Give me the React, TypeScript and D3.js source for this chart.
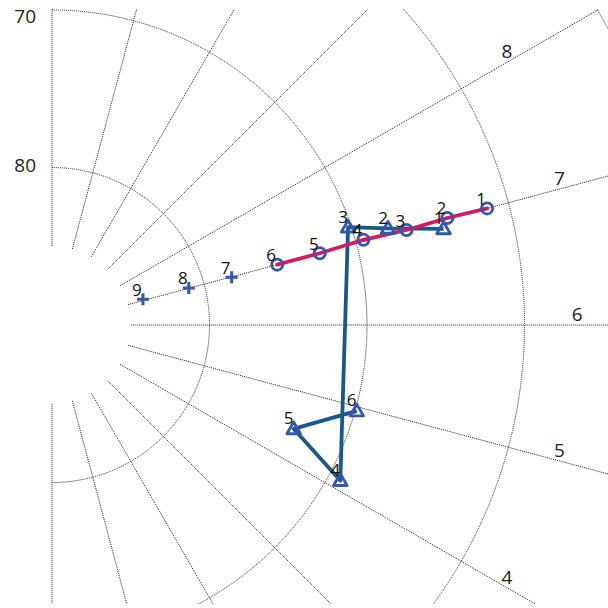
import React from "react";
import * as d3 from "d3";

// ---- data ----
const hourTicks = [0, 1, 2, 3, 4, 5, 6, 7, 8, 9, 10, 11, 12];
const ringLevels = [80, 70, 60, 50];
const ringLabelLevels = [80, 70];

const circleHour = [7.0, 7.01, 7.0, 7.02, 7.0, 7.0];
const circleElev = [61.4, 64.0, 66.7, 69.5, 72.4, 75.2];
const circleLabels = ["1", "2", "3", "4", "5", "6"];

const plusHour = [6.99, 7.01, 7.05];
const plusElev = [78.2, 81.0, 84.0];
const plusLabels = ["7", "8", "9"];

const triHour = [6.92, 7.07, 7.22, 4.11, 4.45, 4.95];
const triElev = [64.4, 67.8, 70.2, 69.2, 73.3, 69.9];
const triLabels = ["1", "2", "3", "4", "5", "6"];

// ---- layout ----
const W = 608, H = 608;
const CX = 52, CY = 325;
const CLIP = { x: 40, y: 9, w: W - 40, h: 595 };
const FONT = "'Open Sans', 'DejaVu Sans', sans-serif";
const GRID = "#1e1e1e";
const MARK = "#3556b0";
const PINK = "#d51b5d";
const BLUE = "#19588f";

const rScale = d3.scaleLinear().domain([90, 50]).range([0, 630]);
// hour -> angle measured clockwise from "up" (d3.pointRadial convention)
const aScale = d3.scaleLinear().domain([0, 12]).range([Math.PI, 0]);

const pt = (h: number, e: number): [number, number] => {
  const [x, y] = d3.pointRadial(aScale(h), rScale(e));
  return [CX + x, CY + y];
};

const lineGen = d3.line<[number, number]>().x((d) => d[0]).y((d) => d[1]);

const inside = (x: number, y: number) =>
  x > CLIP.x + 8 && x < CLIP.x + CLIP.w - 8 && y > CLIP.y + 8 && y < CLIP.y + CLIP.h - 8;

export default function App() {
  const circlePts = circleHour.map((h, i) => pt(h, circleElev[i]));
  const plusPts = plusHour.map((h, i) => pt(h, plusElev[i]));
  const triPts = triHour.map((h, i) => pt(h, triElev[i]));

  const triPath = d3.symbol(d3.symbolTriangle, 80)() as string;

  const ringPath = (lv: number) => {
    const p = d3.path();
    p.arc(CX, CY, rScale(lv), -Math.PI / 2, Math.PI / 2);
    return p.toString();
  };

  const hourLabels = hourTicks
    .map((h) => {
      const [x, y] = pt(h, 56.65);
      return { h, x, y: y - 11 };
    })
    .filter((d) => inside(d.x, d.y));

  return (
    <svg
      width={W}
      height={H}
      style={{ position: "absolute", left: 0, top: 0, background: "#fff" }}
      fontFamily={FONT}
    >
      <defs>
        <clipPath id="plotclip">
          <rect x={CLIP.x} y={CLIP.y} width={CLIP.w} height={CLIP.h} />
        </clipPath>
      </defs>
      <g clipPath="url(#plotclip)">
        {ringLevels.map((lv) => (
          <path
            key={"r" + lv}
            d={ringPath(lv)}
            fill="none"
            stroke={GRID}
            strokeWidth={1}
            strokeDasharray="1,1"
          />
        ))}
        {hourTicks.map((h) => {
          const [x1, y1] = pt(h, 85);
          const [x2, y2] = pt(h, 50);
          return (
            <line
              key={"h" + h}
              x1={x1}
              y1={y1}
              x2={x2}
              y2={y2}
              stroke={GRID}
              strokeWidth={1}
              strokeDasharray="1,1"
            />
          );
        })}
        {hourLabels.map((d) => (
          <text
            key={"hl" + d.h}
            x={d.x}
            y={d.y}
            fontSize={19}
            fill="#222"
            textAnchor="middle"
            dominantBaseline="central"
          >
            {d.h}
          </text>
        ))}
        <path d={lineGen(triPts) as string} fill="none" stroke={BLUE} strokeWidth={3.8} strokeLinejoin="round" />
        <path d={lineGen(circlePts) as string} fill="none" stroke={PINK} strokeWidth={3.8} strokeLinecap="round" />
        {circlePts.map(([x, y], i) => (
          <circle key={"c" + i} cx={x} cy={y} r={5.6} fill="none" stroke={MARK} strokeWidth={2.8} />
        ))}
        {triPts.map(([x, y], i) => (
          <path
            key={"t" + i}
            d={triPath}
            transform={`translate(${x},${y + 1})`}
            fill="none"
            stroke={MARK}
            strokeWidth={2.8}
            strokeLinejoin="round"
          />
        ))}
        {plusPts.map(([x, y], i) => (
          <path
            key={"p" + i}
            d={`M${x - 6},${y}H${x + 6}M${x},${y - 6}V${y + 6}`}
            stroke={MARK}
            strokeWidth={3}
          />
        ))}
        {circlePts.map(([x, y], i) => (
          <text key={"cl" + i} x={x - 6} y={y - 10} fontSize={17} fill="#111" textAnchor="middle" dominantBaseline="central">
            {circleLabels[i]}
          </text>
        ))}
        {triPts.map(([x, y], i) => (
          <text key={"tl" + i} x={x - 5} y={y - 11} fontSize={17} fill="#111" textAnchor="middle" dominantBaseline="central">
            {triLabels[i]}
          </text>
        ))}
        {plusPts.map(([x, y], i) => (
          <text key={"pl" + i} x={x - 6} y={y - 10} fontSize={17} fill="#111" textAnchor="middle" dominantBaseline="central">
            {plusLabels[i]}
          </text>
        ))}
      </g>
      {ringLabelLevels.map((lv) => {
        const y = Math.max(CY - rScale(lv) - 2.5, 15.5);
        return (
          <text key={"rl" + lv} x={36} y={y} fontSize={19} fill="#222" textAnchor="end" dominantBaseline="central">
            {lv}
          </text>
        );
      })}
    </svg>
  );
}
